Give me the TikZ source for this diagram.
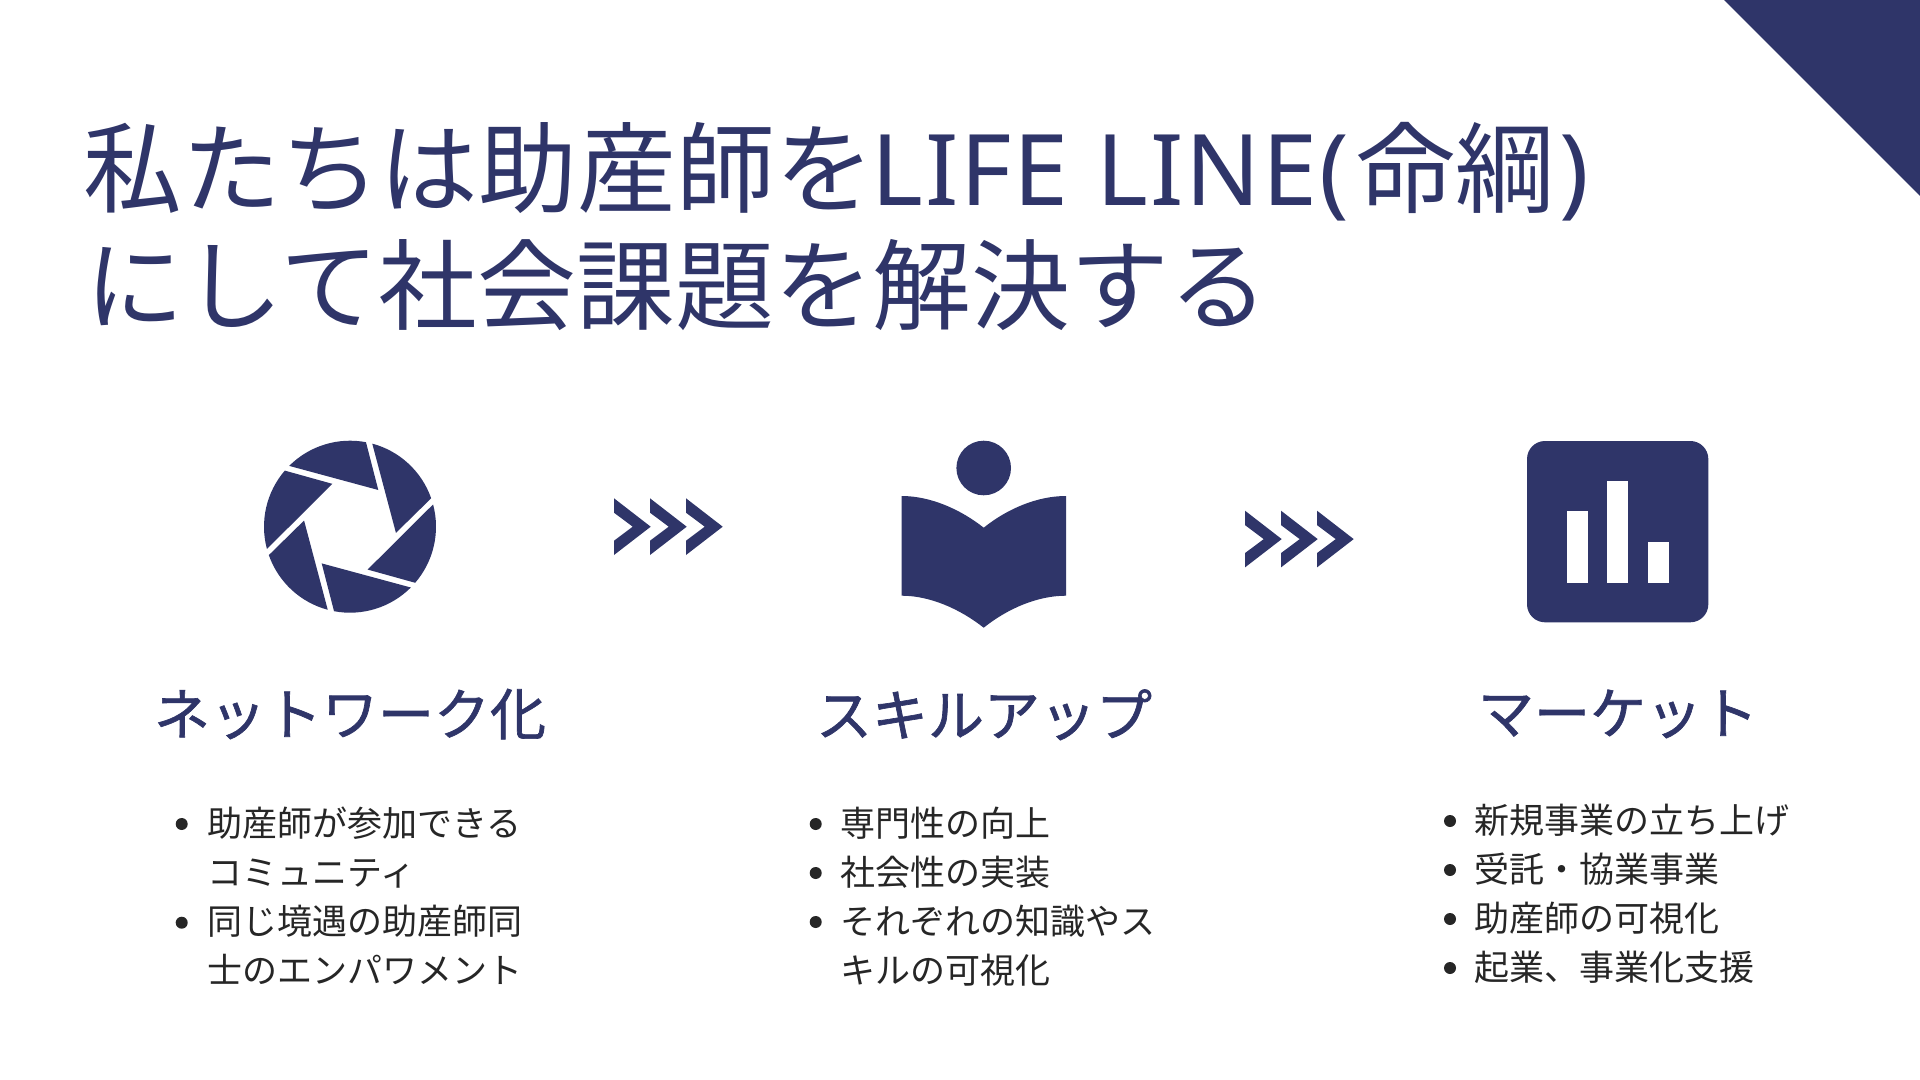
\documentclass[tikz,border=0pt]{standalone}
\usepackage{fontspec}
\setmainfont{Noto Sans CJK JP}
\newfontfamily\latinfont[LetterSpace=2]{Noto Sans}
\newfontfamily\headfont[FakeBold=1.2]{Noto Sans CJK JP}
\definecolor{navy}{HTML}{2F3569}
\definecolor{ink}{HTML}{262626}
\tikzset{
  titletext/.style={anchor=base west,inner sep=0pt,text=navy,font=\fontsize{49.4}{49.4}\selectfont},
  headtext/.style={anchor=base,inner sep=0pt,text=navy,font=\headfont\fontsize{28}{28}\selectfont},
  itemtext/.style={anchor=base west,inner sep=0pt,text=ink,font=\fontsize{17.5}{17.5}\selectfont},
  dot/.style={circle,fill=ink,inner sep=0pt,minimum size=6pt},
  shapefill/.style={fill=navy,draw=none}
}
\begin{document}
\begin{tikzpicture}[x=0.5pt,y=-0.5pt]
\useasboundingbox (0,0) rectangle (1920,1080);
\fill[white] (0,0) rectangle (1920,1080);
% corner
\fill[shapefill] (1724,0) -- (1920,0) -- (1920,196) -- cycle;
% title
\node[titletext] (t1) at (83,206) {私たちは助産師を\kern-1.2pt{\latinfont LIFE LINE(}\kern3.7pt 命綱\kern2.4pt{\latinfont )}};
\node[titletext] (t2) at (85,323) {にして社会課題を解決する};
% aperture
\foreach \a in {0,60,...,300}{
  \begin{scope}[shift={(350,526.7)},x=0.5pt,y=0.5pt,rotate=\a]
    \fill[shapefill] (135:86) arc[start angle=135,end angle=79.3,radius=86] -- (28.3,36.7) -- cycle;
  \end{scope}
}
% book
\fill[shapefill] (983.7,468) circle[radius=27.3];
\fill[shapefill] (901.7,496) .. controls (930,496) and (960,509) .. (983.7,527.7)
  .. controls (1007,509) and (1037,496) .. (1066,496) -- (1066,595.7)
  .. controls (1037,595.7) and (1007,609) .. (983.7,627.7)
  .. controls (960,609) and (930,595.7) .. (901.7,595.7) -- cycle;
% chart
\fill[shapefill,rounded corners=9pt] (1527,441) rectangle (1708.3,622.3);
\fill[white] (1567,511.3) rectangle (1587.7,582.7);
\fill[white] (1607.3,481) rectangle (1628,582.7);
\fill[white] (1648,541.7) rectangle (1668.7,582.7);
% chevrons
\foreach \x in {614,650,686}{
  \fill[shapefill] (\x,498.3) -- ++(36.7,28.4) -- ++(-36.7,28.3) -- ++(0,-14.3) -- ++(18.7,-14) -- ++(-18.7,-14) -- cycle;
}
\foreach \x in {1245,1281,1317}{
  \fill[shapefill] (\x,510.7) -- ++(36.7,28.4) -- ++(-36.7,28.3) -- ++(0,-14.3) -- ++(18.7,-14) -- ++(-18.7,-14) -- cycle;
}
% headings
\node[headtext] (h1) at (350,735) {ネットワーク化};
\node[headtext] (h2) at (984,736) {スキルアップ};
\node[headtext] (h3) at (1618,734) {マーケット};
% list 1
\node[dot] (d11) at (181.7,824) {};
\node[itemtext] (a1) at (207,836) {助産師が参加できる};
\node[itemtext] (a2) at (207,885) {コミュニティ};
\node[dot] (d12) at (181.7,922.7) {};
\node[itemtext] (a3) at (207,934) {同じ境遇の助産師同};
\node[itemtext] (a4) at (207,983) {士のエンパワメント};
% list 2
\node[dot] (d21) at (815.7,824) {};
\node[itemtext] (b1) at (840.5,836) {専門性の向上};
\node[dot] (d22) at (815.7,873) {};
\node[itemtext] (b2) at (840.5,885) {社会性の実装};
\node[dot] (d23) at (815.7,922) {};
\node[itemtext] (b3) at (840.5,934) {それぞれの知識やス};
\node[itemtext] (b4) at (840.5,983) {キルの可視化};
% list 3
\node[dot] (d31) at (1450,821) {};
\node[itemtext] (c1) at (1474,833) {新規事業の立ち上げ};
\node[dot] (d32) at (1450,870) {};
\node[itemtext] (c2) at (1474,882) {受託・協業事業};
\node[dot] (d33) at (1450,919) {};
\node[itemtext] (c3) at (1474,931) {助産師の可視化};
\node[dot] (d34) at (1450,968) {};
\node[itemtext] (c4) at (1474,980) {起業、事業化支援};
\end{tikzpicture}
\end{document}
